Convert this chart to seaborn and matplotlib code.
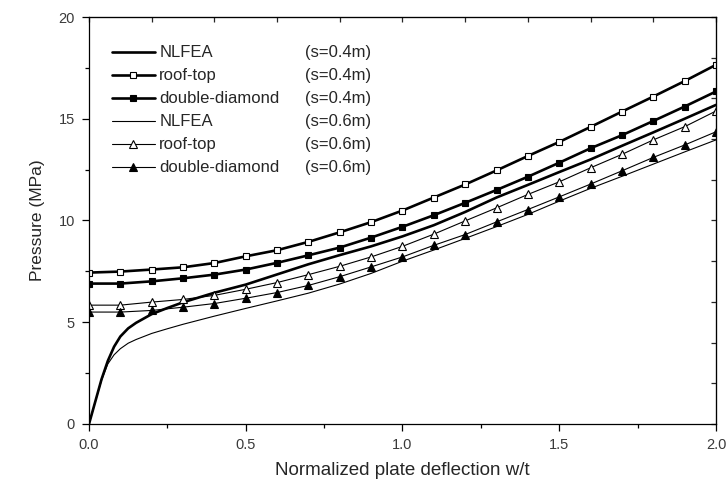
import numpy as np
import pandas as pd
import matplotlib
matplotlib.use("Agg")
import matplotlib.pyplot as plt
from matplotlib.lines import Line2D
from matplotlib.ticker import MultipleLocator
import seaborn as sns

# marker series share the same deflection grid (w/t = 0.0 ... 2.0, step 0.1)
w_marked = [0.0, 0.1, 0.2, 0.3, 0.4, 0.5, 0.6, 0.7, 0.8, 0.9, 1.0,
            1.1, 1.2, 1.3, 1.4, 1.5, 1.6, 1.7, 1.8, 1.9, 2.0]

roof_top_04 = [7.44, 7.49, 7.59, 7.70, 7.91, 8.24, 8.54, 8.95, 9.42, 9.92, 10.49,
               11.13, 11.77, 12.46, 13.17, 13.86, 14.60, 15.35, 16.09, 16.85, 17.65]
double_diamond_04 = [6.90, 6.90, 7.01, 7.16, 7.34, 7.59, 7.92, 8.29, 8.67, 9.16, 9.69,
                     10.26, 10.87, 11.50, 12.15, 12.84, 13.55, 14.19, 14.89, 15.60, 16.34]
roof_top_06 = [5.84, 5.84, 5.99, 6.12, 6.32, 6.62, 6.95, 7.34, 7.75, 8.21, 8.73,
               9.33, 9.98, 10.62, 11.28, 11.90, 12.59, 13.25, 13.96, 14.61, 15.38]
double_diamond_06 = [5.50, 5.50, 5.58, 5.74, 5.92, 6.18, 6.46, 6.81, 7.24, 7.72, 8.21,
                     8.78, 9.31, 9.93, 10.54, 11.16, 11.79, 12.44, 13.10, 13.71, 14.36]

# NLFEA curves (no markers), read densely near the origin
w_fea = [0.0, 0.02, 0.04, 0.06, 0.08, 0.1, 0.125, 0.15, 0.2, 0.25, 0.3, 0.4, 0.5, 0.6,
         0.7, 0.8, 0.9, 1.0, 1.1, 1.2, 1.3, 1.4, 1.5, 1.6, 1.7, 1.8, 1.9, 2.0]
nlfea_04 = [0.0, 1.1, 2.2, 3.1, 3.8, 4.3, 4.7, 4.97, 5.40, 5.70, 5.98, 6.45, 6.85, 7.35,
            7.85, 8.30, 8.73, 9.22, 9.77, 10.42, 11.13, 11.75, 12.38, 13.00, 13.67,
            14.33, 15.00, 15.68]
nlfea_06 = [0.0, 1.1, 2.15, 2.95, 3.40, 3.70, 3.97, 4.15, 4.45, 4.68, 4.90, 5.30, 5.68,
            6.05, 6.43, 6.88, 7.40, 8.00, 8.55, 9.12, 9.70, 10.30, 10.95, 11.58, 12.17,
            12.77, 13.37, 13.96]

names = ["NLFEA", "roof-top", "double-diamond", "NLFEA", "roof-top", "double-diamond"]
spans = ["(s=0.4m)", "(s=0.4m)", "(s=0.4m)", "(s=0.6m)", "(s=0.6m)", "(s=0.6m)"]

sns.set_style("ticks")
plt.rcParams["font.family"] = ["Liberation Sans", "DejaVu Sans"]

fig = plt.figure(figsize=(7.26, 4.86), dpi=100)
ax = fig.add_axes([0.1226, 0.1276, 0.8636, 0.8374])

thick, thin = 1.9, 0.8
series = [
    (w_fea, nlfea_04, thick, None, None, 0),
    (w_marked, roof_top_04, thick, "s", "white", 4.3),
    (w_marked, double_diamond_04, thick, "s", "black", 4.3),
    (w_fea, nlfea_06, thin, None, None, 0),
    (w_marked, roof_top_06, thin, "^", "white", 6.2),
    (w_marked, double_diamond_06, thin, "^", "black", 6.2),
]

handles = []
for (xs, ys, lw, mk, fc, ms), name in zip(series, names):
    df = pd.DataFrame({"w": xs, "p": ys})
    kw = dict(color="black", lw=lw)
    if mk:
        kw.update(marker=mk, markersize=ms, markerfacecolor=fc,
                  markeredgecolor="black", markeredgewidth=0.8)
    sns.lineplot(data=df, x="w", y="p", ax=ax, legend=False, **kw)
    handles.append(Line2D([], [], **kw))

ax.set_xlim(0, 2.0)
ax.set_ylim(0, 20)
ax.xaxis.set_major_locator(MultipleLocator(0.5))
ax.xaxis.set_minor_locator(MultipleLocator(0.25))
ax.yaxis.set_major_locator(MultipleLocator(5))
ax.yaxis.set_minor_locator(MultipleLocator(2.5))
ax.set_xticklabels([f"{v:.1f}" for v in ax.get_xticks()])
ax.tick_params(which="major", direction="out", length=5.2, width=0.9, color="black",
               labelsize=10.5, labelcolor="#3a3a3a", pad=5)
ax.tick_params(which="minor", direction="out", length=2.6, width=0.9, color="black")
for s in ax.spines.values():
    s.set_visible(True)
    s.set_linewidth(0.9)
    s.set_color("black")

# top / right axes carry their own inward ticks
top = ax.secondary_xaxis("top")
top.xaxis.set_major_locator(MultipleLocator(0.2))
top.tick_params(direction="in", length=3.6, width=0.9, labeltop=False)
right = ax.secondary_yaxis("right")
right.yaxis.set_major_locator(MultipleLocator(2))
right.tick_params(direction="in", length=3.6, width=0.9, labelright=False)

ax.set_xlabel("Normalized plate deflection w/t", fontsize=13.5, labelpad=7)
ax.set_ylabel("Pressure (MPa)", fontsize=12.5, labelpad=10)

leg_kw = dict(loc="upper left", frameon=False, fontsize=12, borderpad=0,
              borderaxespad=0, labelspacing=0.48)
leg1 = ax.legend(handles, names, bbox_to_anchor=(0.036, 0.93),
                 handlelength=2.6, handletextpad=0.26, **leg_kw)
ax.add_artist(leg1)
blank = [Line2D([], [], lw=0) for _ in spans]
ax.legend(blank, spans, bbox_to_anchor=(0.345, 0.93),
          handlelength=0, handletextpad=0, **leg_kw)

fig.savefig("out.png", dpi=100)
